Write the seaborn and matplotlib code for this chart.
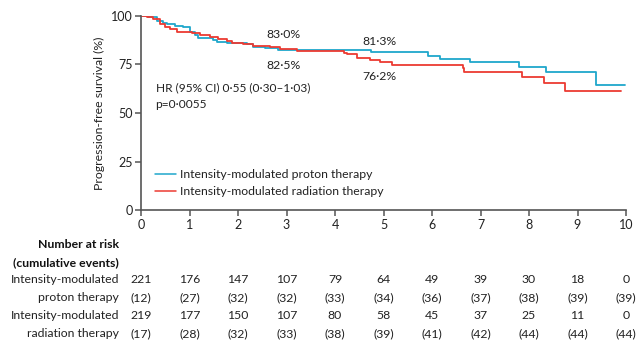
import matplotlib
matplotlib.use("Agg")
import matplotlib.pyplot as plt
import matplotlib.transforms as mtransforms
import seaborn as sns
import pandas as pd

# Kaplan-Meier step points (years, progression-free survival %)
impt_time = [0, 0.15, 0.32, 0.45, 0.53, 0.70, 0.87, 1.01, 1.11, 1.18, 1.49, 1.56, 1.77,
             2.18, 2.31, 2.55, 2.72, 2.83, 4.74, 5.91, 6.17, 6.79, 7.80, 8.36, 9.38, 9.98]
impt_surv = [100, 99.2, 97.4, 96.5, 95.6, 94.7, 94.0, 91.4, 90.0, 88.4, 87.5, 86.6, 85.8,
             85.3, 84.1, 83.6, 83.2, 82.5, 81.3, 79.4, 77.7, 76.0, 73.8, 70.9, 64.4, 64.4]

imrt_time = [0, 0.12, 0.25, 0.39, 0.50, 0.60, 0.74, 1.05, 1.22, 1.42, 1.59, 1.77, 1.87,
             2.10, 2.31, 2.66, 2.87, 3.21, 4.19, 4.24, 4.46, 4.72, 4.93, 5.17, 6.63, 6.66,
             7.85, 8.30, 8.75, 9.90]
imrt_surv = [100, 99.3, 98.5, 95.5, 94.2, 93.2, 91.6, 91.0, 90.1, 88.9, 88.0, 87.1, 86.1,
             85.4, 84.6, 83.7, 83.0, 82.0, 81.0, 80.1, 78.4, 77.1, 76.2, 74.6, 72.9, 71.2,
             68.3, 65.4, 61.4, 61.4]

arm_names = ["Intensity-modulated proton therapy", "Intensity-modulated radiation therapy"]
arm_colors = ["#1fa7cb", "#ec3a32"]

# Milestone estimates at 3 and 5 years
milestones = [(2.93, 90.1, "83·0%"), (2.93, 74.6, "82·5%"),
              (4.92, 87.0, "81·3%"), (4.92, 68.6, "76·2%")]

# Number at risk and cumulative events by year
risk_years = list(range(11))
impt_risk = [221, 176, 147, 107, 79, 64, 49, 39, 30, 18, 0]
impt_events = [12, 27, 32, 32, 33, 34, 36, 37, 38, 39, 39]
imrt_risk = [219, 177, 150, 107, 80, 58, 45, 37, 25, 11, 0]
imrt_events = [17, 28, 32, 33, 38, 39, 41, 42, 44, 44, 44]

sns.set_theme(style="ticks")
plt.rcParams["font.family"] = ["Lato", "DejaVu Sans"]
plt.rcParams["axes.unicode_minus"] = False

df = pd.concat([
    pd.DataFrame({"time": impt_time, "surv": impt_surv, "arm": arm_names[0]}),
    pd.DataFrame({"time": imrt_time, "surv": imrt_surv, "arm": arm_names[1]}),
])

fig = plt.figure(figsize=(6.4, 3.42), dpi=100)
W, H = 640, 342
ax = fig.add_axes([141 / W, 1 - 210.5 / H, 485 / W, (210.5 - 15.7) / H])

sns.lineplot(data=df, x="time", y="surv", hue="arm", palette=arm_colors,
             estimator=None, drawstyle="steps-post", linewidth=1.3, ax=ax, legend=False)

ax.set_xlim(0, 10)
ax.set_ylim(0, 100)
ax.set_xticks(range(0, 11))
ax.set_yticks([0, 25, 50, 75, 100])
ax.set_xlabel("")
ax.set_ylabel("Progression-free survival (%)", fontsize=8.8, color="#222", labelpad=4)
for side in ("top", "right"):
    ax.spines[side].set_visible(False)
for side in ("left", "bottom"):
    ax.spines[side].set_color("#555555")
    ax.spines[side].set_linewidth(1.2)
ax.tick_params(axis="both", direction="out", length=4, width=1.1, color="#555555",
               labelsize=9, labelcolor="#222", pad=2)

for x, y, s in milestones:
    ax.text(x, y, s, ha="center", va="center", fontsize=8.8, color="#222")

ax.text(0.3, 62.8, "HR (95% CI) 0·55 (0·30–1·03)", ha="left", va="center", fontsize=8.6, color="#222")
ax.text(0.3, 54.5, "p=0·0055", ha="left", va="center", fontsize=8.6, color="#222")
for i, (name, col) in enumerate(zip(arm_names, arm_colors)):
    yy = 18.5 - i * 8.5
    ax.plot([0.29, 0.73], [yy, yy], color=col, linewidth=1.1, clip_on=False)
    ax.text(0.80, yy, name, ha="left", va="center", fontsize=8.8, color="#222")

# Risk table beneath the axis
trans = mtransforms.blended_transform_factory(ax.transData, fig.transFigure)
label_x = 119 / W
rows_y = [244.5, 263, 279.5, 297.5, 315.5, 333.5]
fig.text(label_x, 1 - rows_y[0] / H, "Number at risk", ha="right", va="center",
         fontsize=8.8, fontweight="bold", color="#111")
fig.text(label_x, 1 - rows_y[1] / H, "(cumulative events)", ha="right", va="center",
         fontsize=8.8, fontweight="bold", color="#111")
row_labels = ["Intensity-modulated", "proton therapy", "Intensity-modulated", "radiation therapy"]
row_values = [[str(v) for v in impt_risk], [f"({v})" for v in impt_events],
              [str(v) for v in imrt_risk], [f"({v})" for v in imrt_events]]
for lab, vals, yp in zip(row_labels, row_values, rows_y[2:]):
    fig.text(label_x, 1 - yp / H, lab, ha="right", va="center", fontsize=8.8, color="#222")
    for yr, v in zip(risk_years, vals):
        ax.text(yr, 1 - yp / H, v, transform=trans, ha="center", va="center",
                fontsize=8.8, color="#222")

fig.savefig("out.png", dpi=100)
